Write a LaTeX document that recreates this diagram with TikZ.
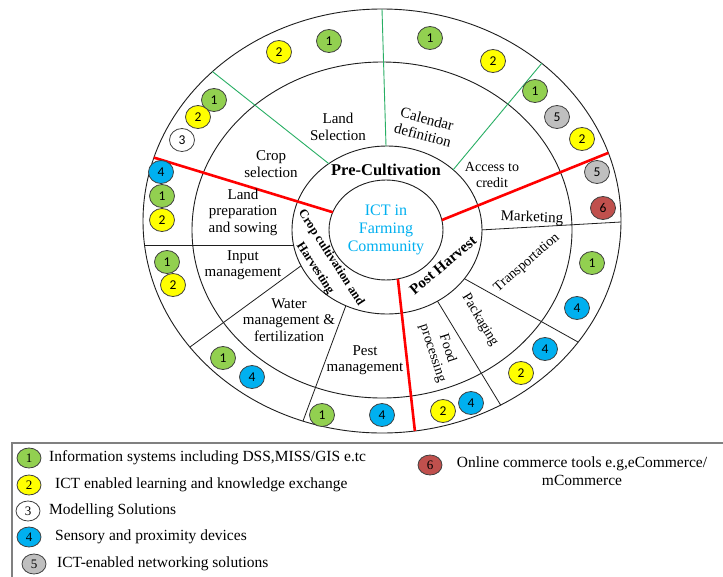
\documentclass[tikz,border=0pt]{standalone}
\usepackage{fontspec}
\setmainfont{Liberation Serif}
\newfontfamily\badgefont{Carlito}
\usetikzlibrary{shapes.geometric,calc}
\definecolor{cgreen}{RGB}{146,208,80}
\definecolor{cyellow}{RGB}{255,255,0}
\definecolor{cblue}{RGB}{0,176,240}
\definecolor{cgrey}{RGB}{191,191,191}
\definecolor{cred}{RGB}{192,80,77}
\definecolor{ictblue}{RGB}{0,176,240}
\definecolor{divgreen}{RGB}{40,175,100}
\definecolor{legendgray}{RGB}{128,128,128}
\definecolor{ringline}{RGB}{30,30,30}
\begin{document}
\begin{tikzpicture}[x=1pt,y=-1pt,
  ringstyle/.style={draw=ringline, line width=0.9pt},
  divline/.style={draw=ringline, line width=0.8pt},
  gline/.style={draw=divgreen, line width=0.9pt},
  rline/.style={draw=red, line width=2.6pt},
  badge/.style={ellipse, draw=black!75, line width=0.8pt, minimum width=25pt, minimum height=23pt, inner sep=0pt, font=\badgefont\fontsize{13.5}{13.5}\selectfont},
  bG/.style={badge, fill=cgreen},
  bY/.style={badge, fill=cyellow},
  bW/.style={badge, fill=white},
  bB/.style={badge, fill=cblue},
  bS/.style={badge, fill=cgrey},
  bR/.style={badge, fill=cred},
  lbadge/.style={ellipse, draw=black!75, line width=0.8pt, minimum width=24pt, minimum height=20pt, inner sep=0pt, font=\fontsize{13}{13}\selectfont},
  lbl/.style={align=center, inner sep=0pt, font=\fontsize{15}{16.5}\selectfont},
  lbls/.style={align=center, inner sep=0pt, font=\fontsize{14}{15.5}\selectfont},
  ltxt/.style={anchor=west, inner sep=0pt, font=\fontsize{15.5}{17}\selectfont},
]
\useasboundingbox (0,0) rectangle (723,576);
\fill[white] (0,0) rectangle (723,576);

% centres
\coordinate (cO) at (382,221);
\coordinate (cM) at (382,230);
\coordinate (cR) at (387,230);
\coordinate (cI) at (386,230);

% ellipses
\draw[ringstyle] (cO) ellipse [x radius=239, y radius=212];
\draw[ringstyle] (cM) ellipse [x radius=190, y radius=168];
\draw[ringstyle] (cR) ellipse [x radius=95, y radius=84];
\draw[ringstyle] (cI) ellipse [x radius=57, y radius=50];

% divider end points
\coordinate (k1a) at (293,245); \coordinate (k1b) at (143,245);
\coordinate (k2a) at (298,268); \coordinate (k2b) at (190,347);
\coordinate (k3a) at (345,308); \coordinate (k3b) at (303,421);
\coordinate (k4a) at (480,230); \coordinate (k4b) at (621,222);
\coordinate (k5a) at (465,279); \coordinate (k5b) at (578,342);
\coordinate (k6a) at (438,302); \coordinate (k6b) at (500,404);
\coordinate (g1a) at (328,163); \coordinate (g1b) at (213,72);
\coordinate (g2a) at (386,146); \coordinate (g2b) at (382,9);
\coordinate (g3a) at (453,170); \coordinate (g3b) at (542,63);
\coordinate (r1a) at (332,212); \coordinate (r1b) at (152,157);
\coordinate (r2a) at (442,220); \coordinate (r2b) at (608,153);
\coordinate (r3a) at (398,280); \coordinate (r3b) at (415,432);

\begin{scope}[even odd rule]
  \clip (cO) ellipse [x radius=239, y radius=212] (cR) ellipse [x radius=95, y radius=84];
  \foreach \p in {k1,k2,k3,k4,k5,k6}
    \draw[divline] ($(\p a)!-0.2!(\p b)$) -- ($(\p a)!1.2!(\p b)$);
  \foreach \p in {g1,g2,g3}
    \draw[gline] ($(\p a)!-0.2!(\p b)$) -- ($(\p a)!1.2!(\p b)$);
\end{scope}
\begin{scope}[even odd rule]
  \clip (cO) ellipse [x radius=239, y radius=212] (cI) ellipse [x radius=57, y radius=50];
  \foreach \p in {r1,r2,r3}
    \draw[rline] ($(\p a)!-0.2!(\p b)$) -- ($(\p a)!1.2!(\p b)$);
\end{scope}

% centre text
\node[align=center, inner sep=0pt, text=ictblue, font=\fontsize{16}{18}\selectfont] (ict) at (386,230) {ICT in\\Farming\\Community};

% phase labels
\node[inner sep=0pt, font=\bfseries\fontsize{16.5}{18}\selectfont] (pre) at (386,170) {Pre-Cultivation};
\node[align=center, inner sep=0pt, rotate=-57, font=\bfseries\fontsize{12.5}{19}\selectfont] (ccah) at (323,263) {Crop cultivation and\\Harvesting};
\node[inner sep=0pt, rotate=40, font=\bfseries\fontsize{15}{17}\selectfont] (post) at (443,265) {Post Harvest};

% activity labels
\node[lbl] (tland) at (338,127) {Land\\Selection};
\node[lbl, rotate=-15] (tcal) at (425,127) {Calendar\\definition};
\node[lbls] (tacc) at (492,175) {Access to\\credit};
\node[lbl] (tcrop) at (271,164) {Crop\\selection};
\node[lbl] (tlps) at (243,212) {Land\\preparation\\and sowing};
\node[lbl] (tinp) at (243,265) {Input\\management};
\node[lbl] (twat) at (289,320) {Water\\management \&\\fertilization};
\node[lbl] (tpest) at (365,360) {Pest\\management};
\node[lbl, rotate=-2] (tmkt) at (532,218) {Marketing};
\node[lbls, rotate=41] (ttra) at (527,263) {Transportation};
\node[lbls, rotate=-59] (tpack) at (480,320) {Packaging};
\node[lbls, rotate=-72] (tfood) at (440,351) {Food\\processing};

% badges in the outer ring
\node[bG] (b1) at (329,41) {1};
\node[bY] (b2) at (279,52) {2};
\node[bG] (b3) at (430,38) {1};
\node[bY] (b4) at (493,61) {2};
\node[bG] (b5) at (214,100) {1};
\node[bY] (b6) at (198,117) {2};
\node[bW] (b7) at (182,140) {3};
\node[bG] (b8) at (535,91) {1};
\node[bS] (b9) at (557,117) {5};
\node[bY] (b10) at (582,139) {2};
\node[bS] (b11) at (597,172) {5};
\node[bR] (b12) at (603,208) {6};
\node[bB] (b13) at (161,172) {4};
\node[bG] (b14) at (162,196) {1};
\node[bY] (b15) at (162,220) {2};
\node[bG] (b16) at (167,262) {1};
\node[bY] (b17) at (173,285) {2};
\node[bG] (b18) at (223,358) {1};
\node[bB] (b19) at (252,377) {4};
\node[bG] (b20) at (322,415) {1};
\node[bB] (b21) at (382,415) {4};
\node[bY] (b22) at (443,411) {2};
\node[bB] (b23) at (471,403) {4};
\node[bY] (b24) at (521,373) {2};
\node[bB] (b25) at (545,349) {4};
\node[bB] (b26) at (577,308) {4};
\node[bG] (b27) at (592,263) {1};

% legend
\draw[legendgray, line width=1.6pt] (12,580) -- (12,443) -- (730,443);
\node[lbadge, fill=cgreen] (l1) at (29,458) {1};
\node[ltxt] (lt1) at (49,458) {Information systems including DSS,MISS/GIS e.tc};
\node[lbadge, fill=cyellow] (l2) at (29,485) {2};
\node[ltxt] (lt2) at (55,485) {ICT enabled learning and knowledge exchange};
\node[lbadge, fill=white] (l3) at (28,511) {3};
\node[ltxt] (lt3) at (49,511) {Modelling Solutions};
\node[lbadge, fill=cblue] (l4) at (29,537) {4};
\node[ltxt] (lt4) at (55,537) {Sensory and proximity devices};
\node[lbadge, fill=cgrey] (l5) at (34,564) {5};
\node[ltxt] (lt5) at (57,564) {ICT-enabled networking solutions};
\node[lbadge, fill=cred] (l6) at (430,465) {6};
\node[align=center, inner sep=0pt, font=\fontsize{15.5}{18}\selectfont] (lt6) at (582,471) {Online commerce tools e.g,eCommerce/\\mCommerce};
\end{tikzpicture}
\end{document}
